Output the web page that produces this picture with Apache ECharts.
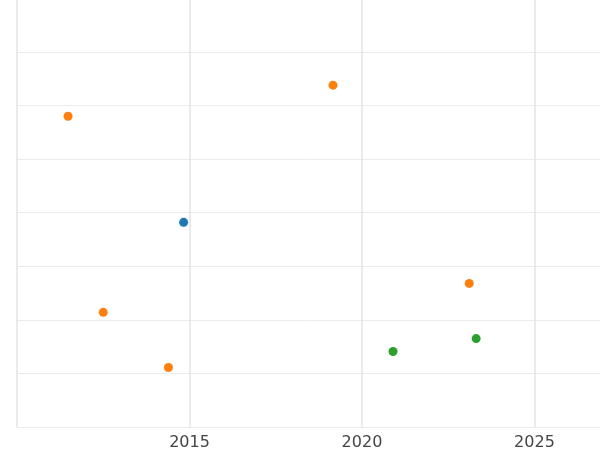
<!DOCTYPE html>
<html>
<head>
<meta charset="utf-8">
<script src="https://cdn.jsdelivr.net/npm/echarts@6/dist/echarts.min.js"></script>
<style>html,body{margin:0;padding:0;background:#fff}#main{width:600px;height:450px}</style>
</head>
<body>
<div id="main"></div>
<script>
// points: [year, value]
var orangePts = [[2011.48, 4.80], [2019.16, 5.38], [2023.11, 1.68], [2012.50, 1.14], [2014.39, 0.11]];
var bluePts = [[2014.83, 2.82]];
var greenPts = [[2020.90, 0.41], [2023.31, 0.65]];

var myChart = echarts.init(document.getElementById('main'));
function ser(data, color) {
    return {type: 'scatter', data: data, symbolSize: 9, itemStyle: {color: color, opacity: 1}};
}
myChart.setOption({
    animation: false,
    grid: {left: 17, right: 0, top: 0, bottom: 23, outerBoundsMode: 'none'},
    xAxis: {
        type: 'value', min: 2010, max: 2026.9, interval: 5,
        axisLine: {show: false}, axisTick: {show: false},
        axisLabel: {color: '#444', fontSize: 16, fontFamily: 'DejaVu Sans',
            formatter: function (v) { return v % 5 === 0 && v > 2010 ? String(v) : ''; }},
        splitLine: {showMaxLine: false, lineStyle: {color: '#e3e3e3', width: 1.5}}
    },
    yAxis: {
        type: 'value', min: -1, max: 6.97, interval: 1,
        axisLine: {show: false}, axisTick: {show: false}, axisLabel: {show: false},
        splitLine: {showMaxLine: false, lineStyle: {color: '#ebebeb'}}
    },
    series: [ser(orangePts, '#ff7f0e'), ser(bluePts, '#1f77b4'), ser(greenPts, '#2ca02c')]
});
</script>
</body>
</html>
